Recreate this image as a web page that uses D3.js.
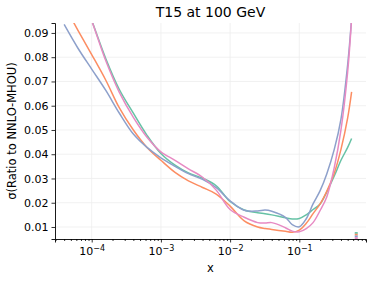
<!DOCTYPE html>
<html>
<head>
<meta charset="utf-8">
<script src="https://cdn.jsdelivr.net/npm/d3@7"></script>
<style>
body { margin: 0; background: #fff; }
text { font-family: "DejaVu Sans", sans-serif; }
</style>
</head>
<body>
<div id="chart"></div>
<script>
// sample points along x (shared by all four curves)
var xs = [4.0e-5, 6.3e-5, 1.0e-4, 1.6e-4, 2.5e-4, 4.0e-4, 6.3e-4, 1.0e-3, 1.6e-3, 2.5e-3,
          4.0e-3, 6.3e-3, 1.0e-2, 1.6e-2, 2.5e-2, 3.2e-2, 4.0e-2, 6.3e-2, 0.079, 0.1,
          0.126, 0.158, 0.2, 0.25, 0.32, 0.4, 0.5, 0.57];

var greenVals  = [0.125, 0.110, 0.0952, 0.0794, 0.0668, 0.0569, 0.0478, 0.0403, 0.0355, 0.0323,
                  0.0301, 0.0270, 0.0205, 0.0170, 0.0159, 0.0155, 0.0150, 0.0138, 0.0133, 0.0135,
                  0.0150, 0.0172, 0.0195, 0.0245, 0.0310, 0.0375, 0.0428, 0.0465];
var orangeVals = [0.1015, 0.0912, 0.0811, 0.0705, 0.0592, 0.0500, 0.0428, 0.0375, 0.0325, 0.0290,
                  0.0263, 0.0236, 0.0186, 0.0125, 0.0100, 0.0094, 0.0090, 0.0082, 0.0078, 0.0087,
                  0.0115, 0.0155, 0.0195, 0.0248, 0.0322, 0.0420, 0.0550, 0.0657];
var blueVals   = [0.0935, 0.0838, 0.0751, 0.0663, 0.0570, 0.0483, 0.0428, 0.0385, 0.0350, 0.0320,
                  0.0296, 0.0262, 0.0208, 0.0169, 0.0166, 0.0170, 0.0165, 0.0140, 0.0110, 0.0101,
                  0.0134, 0.0195, 0.0250, 0.0320, 0.0420, 0.0545, 0.0770, 0.0960];
var pinkVals   = [0.125, 0.109, 0.095, 0.0785, 0.0656, 0.0552, 0.0470, 0.0410, 0.0375, 0.0340,
                  0.0305, 0.0252, 0.0172, 0.0140, 0.0118, 0.0116, 0.0118, 0.0097, 0.0083, 0.0080,
                  0.0093, 0.0118, 0.0168, 0.0225, 0.0345, 0.0500, 0.0740, 0.0960];

// little stub of each curve visible at the bottom right
var tailX = 0.665;
var tailVals = [0.0075, 0.0068, 0.0061, 0.0054];

var xTicks = [1e-4, 1e-3, 1e-2, 1e-1];
var xTickExp = ["\u22124", "\u22123", "\u22122", "\u22121"];
var yTicks = [0.01, 0.02, 0.03, 0.04, 0.05, 0.06, 0.07, 0.08, 0.09];

var colors = ["#66c2a5", "#fc8d62", "#8da0cb", "#e78ac3"];
var series = [greenVals, orangeVals, blueVals, pinkVals];

var margin = {top: 23, right: 8, bottom: 42, left: 55},
    width = 374 - margin.left - margin.right,
    height = 281 - margin.top - margin.bottom;

var x = d3.scaleLog().domain([2.95e-5, 0.92]).range([0, width]);
var y = d3.scaleLinear().domain([0.00505, 0.0941]).range([height, 0]);

var svg = d3.select("#chart").append("svg")
    .attr("width", width + margin.left + margin.right)
    .attr("height", height + margin.top + margin.bottom);

var g = svg.append("g")
    .attr("transform", "translate(" + margin.left + "," + margin.top + ")");

g.append("clipPath").attr("id", "clip")
  .append("rect").attr("width", width).attr("height", height);

// grid
g.selectAll(".gx").data(xTicks).enter().append("line")
    .attr("x1", function(d) { return x(d); })
    .attr("x2", function(d) { return x(d); })
    .attr("y1", 0).attr("y2", height)
    .attr("stroke", "#ededed").attr("stroke-width", 0.8);
g.selectAll(".gy").data(yTicks).enter().append("line")
    .attr("x1", 0).attr("x2", width)
    .attr("y1", function(d) { return y(d); })
    .attr("y2", function(d) { return y(d); })
    .attr("stroke", "#ededed").attr("stroke-width", 0.8);

var line = d3.line()
    .x(function(d, i) { return x(xs[i]); })
    .y(function(d) { return y(d); })
    .curve(d3.curveCatmullRom.alpha(0.5));

var plot = g.append("g").attr("clip-path", "url(#clip)");

series.forEach(function(s, i) {
  plot.append("path")
      .datum(s)
      .attr("fill", "none")
      .attr("stroke", colors[i])
      .attr("stroke-width", 1.5)
      .attr("d", line);
});

plot.selectAll(".tail").data(tailVals).enter().append("rect")
    .attr("x", x(tailX) - 1.5)
    .attr("width", 3)
    .attr("y", function(d) { return y(d) - 1; })
    .attr("height", 1.8)
    .attr("fill", function(d, i) { return colors[i]; });

// x axis: major + minor ticks
var minors = [];
for (var e = -5; e <= 0; e++) {
  for (var m = 2; m <= 9; m++) {
    var v = m * Math.pow(10, e);
    if (v >= x.domain()[0] && v <= x.domain()[1]) minors.push(v);
  }
}

var xAxis = g.append("g")
    .attr("transform", "translate(0," + height + ")")
    .call(d3.axisBottom(x).tickValues(xTicks).tickSize(3.5).tickFormat(""));
g.append("g")
    .attr("transform", "translate(0," + height + ")")
    .call(d3.axisBottom(x).tickValues(minors).tickSize(2).tickFormat(""))
    .call(function(a) { a.select(".domain").remove(); });

xAxis.selectAll(".tick").append("text")
    .attr("y", 16)
    .attr("fill", "#000")
    .attr("text-anchor", "middle")
    .style("font-size", "11px")
    .each(function(d, i) {
      var t = d3.select(this);
      t.append("tspan").text("10");
      t.append("tspan").attr("dy", "-0.45em").style("font-size", "8px").text(xTickExp[i]);
    });

g.append("g")
    .call(d3.axisLeft(y).tickValues(yTicks).tickSize(3.5).tickFormat(d3.format(".2f")))
    .selectAll("text")
    .attr("fill", "#000")
    .style("font-size", "11px");

g.selectAll(".domain").attr("stroke", "#000").attr("stroke-width", 0.9);
g.selectAll(".tick line").attr("stroke", "#000").attr("stroke-width", 0.8);

// labels
svg.append("text")
    .attr("x", margin.left + width / 2)
    .attr("y", 17)
    .attr("text-anchor", "middle")
    .style("font-size", "14px")
    .text("T15 at 100 GeV");

svg.append("text")
    .attr("x", margin.left + width / 2)
    .attr("y", 272)
    .attr("text-anchor", "middle")
    .style("font-size", "11.5px")
    .text("x");

svg.append("text")
    .attr("transform", "translate(16," + (margin.top + height / 2) + ") rotate(-90)")
    .attr("text-anchor", "middle")
    .style("font-size", "11.5px")
    .text("\u03c3(Ratio to NNLO-MHOU)");
</script>
</body>
</html>
